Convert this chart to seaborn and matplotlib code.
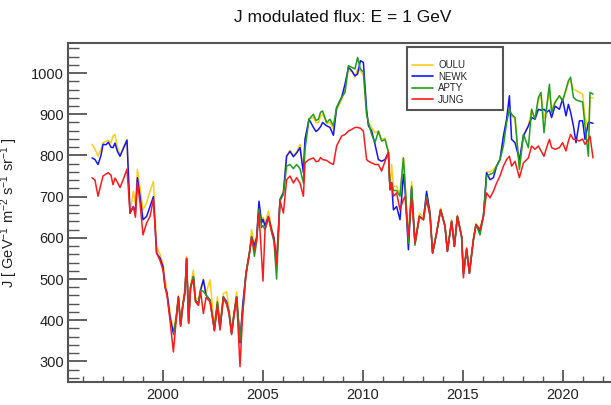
import numpy as np
import pandas as pd
import matplotlib
matplotlib.use("Agg")
import matplotlib.pyplot as plt
from matplotlib.ticker import MultipleLocator
import seaborn as sns

nan = np.nan

# decimal years
YEAR = [
    1996.45, 1996.60, 1996.75, 1996.90, 1997.00, 1997.15, 1997.27, 1997.40, 1997.50, 1997.60,
    1997.72, 1997.85, 1998.00, 1998.20, 1998.35, 1998.52, 1998.62, 1998.72, 1998.85, 1999.00,
    1999.18, 1999.35, 1999.52, 1999.68, 1999.85, 2000.00, 2000.10, 2000.20, 2000.35, 2000.52,
    2000.65, 2000.77, 2000.88, 2000.98, 2001.10, 2001.18, 2001.28, 2001.38, 2001.52, 2001.62,
    2001.77, 2001.88, 2002.02, 2002.15, 2002.35, 2002.57, 2002.72, 2002.85, 2003.02, 2003.18,
    2003.30, 2003.43, 2003.55, 2003.68, 2003.85, 2003.98, 2004.15, 2004.32, 2004.43, 2004.57,
    2004.68, 2004.80, 2004.93, 2005.00, 2005.10, 2005.27, 2005.43, 2005.55, 2005.68, 2005.85,
    2006.02, 2006.18, 2006.35, 2006.52, 2006.68, 2006.85, 2007.02, 2007.10, 2007.30, 2007.52,
    2007.65, 2007.77, 2007.88, 2007.98, 2008.18, 2008.35, 2008.52, 2008.68, 2008.93, 2009.10,
    2009.27, 2009.43, 2009.60, 2009.73, 2009.87, 2010.02, 2010.18, 2010.27, 2010.43, 2010.60,
    2010.77, 2010.93, 2011.10, 2011.27, 2011.35, 2011.43, 2011.52, 2011.68, 2011.85, 2012.02,
    2012.10, 2012.27, 2012.43, 2012.60, 2012.82, 2013.02, 2013.18, 2013.35, 2013.48, 2013.68,
    2013.88, 2014.10, 2014.22, 2014.43, 2014.57, 2014.72, 2014.93, 2015.02, 2015.18, 2015.32,
    2015.52, 2015.65, 2015.85, 2016.02, 2016.18, 2016.35, 2016.52, 2016.68, 2016.85, 2017.02,
    2017.18, 2017.32, 2017.43, 2017.60, 2017.82, 2018.02, 2018.27, 2018.43, 2018.60, 2018.77,
    2018.90, 2019.05, 2019.18, 2019.32, 2019.43, 2019.60, 2019.82, 2019.98, 2020.15, 2020.27,
    2020.38, 2020.52, 2020.65, 2020.82, 2020.98, 2021.10, 2021.27, 2021.35, 2021.50,
]

OULU = [
    827, 815, 798, 815, 831, 834, 837, 830, 847, 851,
    820, 800, 818, 839, 660, 713, 680, 766, 722, 668,
    685, 713, 737, 579, 560, 538, 500, 470, 420, 372,
    410, 460, 395, 440, 480, 555, 405, 485, 522, 455,
    450, 478, 500, 465, 498, 385, 457, 390, 465, 469,
    430, 375, 420, 469, 360, 420, 520, 565, 620, 585,
    605, 680, 640, 650, 636, 665, 625, 600, 540, 695,
    715, 800, 812, 800, 808, 827, 760, 835, 888, 892,
    880, 880, 895, 900, 878, 880, 865, 910, 935, 960,
    1005, 1005, 990, 1010, 1005, 995, 900, 880, 868, 855,
    859, 840, 842, 812, 720, 778, 725, 725, 705, 794,
    740, 600, 737, 590, 660, 650, 705, 665, 565, 615,
    672, 632, 570, 645, 585, 655, 606, 520, 575, 520,
    600, 635, 620, 655, 760, 760, 766, 776, 792, 840,
    885, 912, 895, 890, 770, 850, 872, 910, 888, 935,
    945, 890, 915, 955, 915, 930, 945, 935, 955, 978,
    980, 961, 958, 953, 949, 896, 860, 941, 940,
]

NEWK = [
    794, 790, 778, 800, 827, 826, 832, 820, 819, 830,
    810, 798, 815, 837, 660, 676, 660, 746, 701, 644,
    652, 676, 700, 563, 551, 530, 481, 466, 408, 368,
    400, 457, 388, 432, 470, 550, 395, 481, 506, 449,
    441, 473, 498, 461, 449, 376, 440, 380, 457, 445,
    420, 368, 415, 457, 345, 435, 514, 563, 603, 580,
    600, 689, 636, 645, 629, 652, 620, 600, 538, 693,
    709, 798, 810, 797, 806, 819, 758, 839, 888, 868,
    858, 863, 870, 880, 872, 868, 849, 916, 941, 973,
    1014, 1006, 993, 998, 1030, 1026, 912, 872, 860, 827,
    790, 786, 790, 807, 717, 734, 668, 676, 644, 754,
    720, 571, 720, 587, 652, 644, 713, 660, 563, 612,
    668, 628, 567, 640, 579, 652, 603, 514, 571, 514,
    595, 632, 615, 652, 758, 741, 746, 774, 790, 847,
    888, 945, 839, 831, 790, 847, 872, 892, 888, 912,
    910, 912, 905, 910, 892, 920, 912, 937, 896, 924,
    905, 872, 831, 884, 884, 839, 880, 880, 878,
]

APTY = [
    nan, nan, nan, nan, nan, nan, nan, nan, nan, nan,
    nan, nan, nan, nan, nan, nan, nan, nan, nan, nan,
    nan, nan, nan, nan, nan, nan, nan, nan, nan, 365,
    400, 455, 388, 432, 470, 550, 395, 481, 506, 449,
    441, 473, 470, 461, 449, 378, 445, 382, 457, 441,
    420, 368, 415, 457, 350, 416, 514, 563, 603, 555,
    590, 670, 625, 630, 620, 650, 615, 590, 500, 690,
    705, 774, 778, 768, 778, 768, 733, 815, 888, 900,
    885, 888, 905, 908, 880, 888, 872, 916, 941, 953,
    1018, 1014, 1010, 1038, 1010, 1002, 900, 880, 851, 831,
    859, 835, 839, 807, 717, 734, 715, 715, 701, 794,
    735, 587, 725, 582, 652, 644, 700, 655, 563, 612,
    668, 628, 567, 640, 579, 652, 603, 514, 571, 514,
    595, 632, 607, 652, 750, 754, 758, 774, 790, 823,
    880, 912, 900, 892, 766, 851, 819, 912, 888, 941,
    953, 855, 916, 973, 904, 928, 945, 932, 961, 981,
    990, 941, 935, 932, 930, 872, 798, 953, 949,
]

JUNG = [
    746, 740, 701, 730, 750, 755, 758, 752, 729, 745,
    735, 722, 740, 767, 660, 676, 650, 734, 685, 607,
    636, 652, 693, 563, 545, 522, 481, 460, 400, 323,
    395, 455, 385, 430, 468, 550, 392, 478, 500, 445,
    436, 470, 416, 455, 445, 374, 437, 376, 455, 438,
    415, 365, 410, 455, 287, 412, 510, 560, 600, 570,
    595, 660, 554, 495, 620, 650, 615, 595, 535, 690,
    660, 741, 750, 733, 746, 733, 701, 782, 790, 794,
    785, 786, 795, 790, 788, 782, 778, 823, 847, 851,
    859, 863, 868, 868, 866, 859, 790, 786, 782, 778,
    778, 762, 786, 807, 717, 734, 701, 709, 668, 693,
    700, 603, 697, 587, 652, 644, 693, 652, 563, 612,
    668, 628, 567, 640, 579, 652, 603, 503, 575, 514,
    595, 632, 620, 652, 709, 697, 713, 733, 750, 774,
    790, 798, 774, 786, 746, 782, 794, 823, 815, 823,
    811, 798, 819, 839, 819, 815, 819, 831, 811, 835,
    851, 839, 839, 835, 840, 827, 839, 847, 794,
]

STATIONS = ["OULU", "NEWK", "APTY", "JUNG"]
COLORS = {"OULU": "#ffcc1a", "NEWK": "#1414ff", "APTY": "#1f9e1f", "JUNG": "#ff1a1a"}

df = pd.DataFrame({"year": YEAR, "OULU": OULU, "NEWK": NEWK, "APTY": APTY, "JUNG": JUNG})
long = df.melt(id_vars="year", var_name="station", value_name="flux").dropna()

sns.set_theme(style="white")
plt.rcParams["font.family"] = ["Liberation Sans", "DejaVu Sans"]
plt.rcParams["mathtext.fontset"] = "custom"
plt.rcParams["mathtext.rm"] = "Liberation Sans"
plt.rcParams["mathtext.it"] = "Liberation Sans"

fig = plt.figure(figsize=(6.11, 4.05), dpi=100)
ax = fig.add_axes([68 / 611, 1 - 382 / 405, 550 / 611, 339 / 405])

sns.lineplot(data=long, x="year", y="flux", hue="station", hue_order=STATIONS,
             palette=COLORS, linewidth=1.1, sort=False, estimator=None, ax=ax)

ax.set_xlim(1995.25, 2022.75)
ax.set_ylim(250, 1073)
ax.xaxis.set_major_locator(MultipleLocator(5))
ax.xaxis.set_minor_locator(MultipleLocator(1))
ax.yaxis.set_major_locator(MultipleLocator(100))
ax.yaxis.set_minor_locator(MultipleLocator(20))

spine_col = "#555555"
for side in ["left", "bottom", "top"]:
    ax.spines[side].set_color(spine_col)
    ax.spines[side].set_linewidth(1.5)
ax.spines["right"].set_visible(False)

ax.tick_params(axis="both", which="both", direction="in", colors=spine_col,
               labelcolor="#222222", labelsize=10.5, bottom=True, left=True,
               top=False, right=False)
ax.tick_params(axis="x", which="major", length=8.5, width=1.3, pad=4)
ax.tick_params(axis="x", which="minor", length=4.2, width=1.0)
ax.tick_params(axis="y", which="major", length=14, width=1.3, pad=3)
ax.tick_params(axis="y", which="minor", length=8, width=1.0)

ax.set_xlabel("")
ax.set_ylabel(r"J [ GeV$^{-1}$ m$^{-2}$ s$^{-1}$ sr$^{-1}$ ]", fontsize=10.5, color="#222222")
ax.yaxis.set_label_coords(-0.087, 0.5)

fig.text(343 / 611, 1 - 17.5 / 405, "J modulated flux: E = 1 GeV",
         ha="center", va="center", fontsize=12.5, color="#111111")

leg = ax.legend(loc="upper left", bbox_to_anchor=((407 - 68) / 550, (382 - 47) / 339, 96 / 550, 0),
                mode="expand", borderaxespad=0, fontsize=7, frameon=True, fancybox=False,
                framealpha=1, edgecolor=spine_col, handlelength=2.2, handletextpad=0.5,
                labelspacing=0.15, borderpad=0.5, title=" ", title_fontsize=5)
leg.get_frame().set_linewidth(1.5)
for line in leg.get_lines():
    line.set_linewidth(1.2)

fig.savefig("out.png", dpi=100)
